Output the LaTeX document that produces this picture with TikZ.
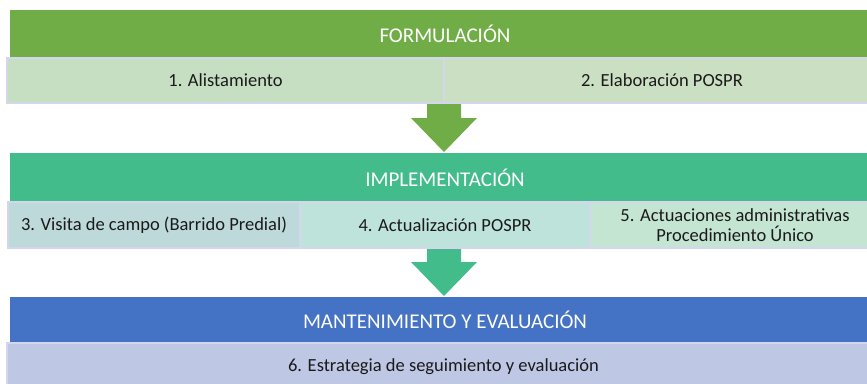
\documentclass[tikz,border=0pt]{standalone}
\usepackage{fontspec}
\setmainfont{Carlito}
\usetikzlibrary{calc}
\definecolor{fgreen}{HTML}{70AD47}
\definecolor{fteal}{HTML}{43BC8C}
\definecolor{fblue}{HTML}{4472C4}
\definecolor{cA}{HTML}{C6DFC3}
\definecolor{cB}{HTML}{CBDFC2}
\definecolor{cC}{HTML}{BDD9DA}
\definecolor{cD}{HTML}{BDE3DA}
\definecolor{cE}{HTML}{C4E5D2}
\definecolor{cF}{HTML}{BEC8E5}
\definecolor{cellborder}{HTML}{D3D6EC}
\definecolor{txt}{HTML}{1A1A1A}
\begin{document}
\begin{tikzpicture}[x=1pt,y=-1pt,
  hdr/.style={anchor=north west, inner sep=0pt, outer sep=0pt, text=white,
    font=\fontsize{21}{25}\selectfont, minimum width=870pt},
  cell/.style={anchor=north west, inner sep=0pt, outer sep=0pt, draw=cellborder,
    line width=1.5pt, text=txt, align=center,
    font=\fontsize{18.5}{20.5}\selectfont}]
\useasboundingbox (0,0) rectangle (867,383);
\begin{scope}
\clip (0,0) rectangle (867,383);
% phase bars
\node[hdr, fill=fgreen, minimum height=48pt] (form) at (10,10) {FORMULACIÓN};
\node[hdr, fill=fteal, minimum height=49pt] (impl) at (10,153) {IMPLEMENTACIÓN};
\node[hdr, fill=fblue, minimum height=46pt] (mant) at (10,297) {MANTENIMIENTO Y EVALUACIÓN};
% arrows
\coordinate (a1top) at (444,103);
\coordinate (a1tip) at ($(a1top |- impl.north)+(0,-1)$);
\fill[fgreen] ($(a1top)+(-17,0)$) -- ($(a1top)+(17,0)$) -- ($(a1top)+(17,15)$)
  -- ($(a1top)+(33,15)$) -- (a1tip) -- ($(a1top)+(-33,15)$) -- ($(a1top)+(-17,15)$) -- cycle;
\coordinate (a2top) at (444,248);
\coordinate (a2tip) at ($(a2top |- mant.north)+(0,-1)$);
\fill[fteal] ($(a2top)+(-17,0)$) -- ($(a2top)+(17,0)$) -- ($(a2top)+(17,14)$)
  -- ($(a2top)+(33,14)$) -- (a2tip) -- ($(a2top)+(-33,14)$) -- ($(a2top)+(-17,14)$) -- cycle;
% cells
\node[cell, fill=cA, minimum width=437pt, minimum height=45pt] (c1) at (7,58) {1. Alistamiento};
\node[cell, fill=cB, minimum width=436pt, minimum height=45pt] (c2) at (444,58) {2. Elaboración POSPR};
\node[cell, fill=cC, minimum width=292pt, minimum height=46pt] (c3) at (8,202) {3. Visita de campo (Barrido Predial)};
\node[cell, fill=cD, minimum width=290pt, minimum height=46pt] (c4) at (300,202) {4. Actualización POSPR};
\node[cell, fill=cE, minimum width=290pt, minimum height=46pt] (c5) at (590,202) {5. Actuaciones administrativas\\Procedimiento Único};
\node[cell, fill=cF, minimum width=873pt, minimum height=48pt] (c6) at (7,343) {6. Estrategia de seguimiento y evaluación};
\end{scope}
\end{tikzpicture}
\end{document}
